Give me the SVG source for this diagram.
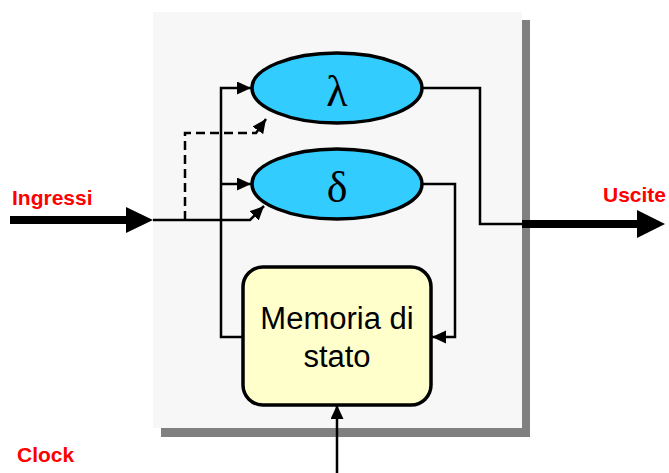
<svg xmlns="http://www.w3.org/2000/svg" width="669" height="473" viewBox="0 0 669 473">
<style>
.ln{fill:none;stroke:#000;stroke-width:2.5}
.dash{stroke-dasharray:9 5}
.ell{fill:#33ccff;stroke:#000;stroke-width:3.5}
.greek{font-family:"Liberation Serif","DejaVu Serif",serif;font-size:44px;text-anchor:middle;fill:#000}
.box{fill:#ffffcc;stroke:#000;stroke-width:3.5}
.mem{font-family:"Liberation Sans",Arial,sans-serif;font-size:31px;text-anchor:middle;fill:#000}
.lab{font-family:"Liberation Sans",Arial,sans-serif;font-size:21px;font-weight:bold;fill:#ff0000}
.thick{stroke:#000;stroke-width:8;fill:none}
</style>
<defs>
<marker id="ah" markerUnits="userSpaceOnUse" markerWidth="15" markerHeight="14" refX="14" refY="6.5" orient="auto">
<path d="M0,0 L14,6.5 L0,13 z" fill="#000"/>
</marker>
</defs>
<g id="panel">
<rect x="161" y="20" width="369" height="417" fill="#808080"/>
<rect x="153" y="12" width="369" height="416" fill="#f7f7f7"/>
</g>
<g id="connectors">
<path class="thick" d="M10,220 H128"/>
<polygon points="126,207 153,220 126,233" fill="#000"/>
<path class="thick" d="M522,224 H640"/>
<polygon points="637,210 665,224 637,238" fill="#000"/>
<path class="ln" d="M153,220 H250 L264,206" marker-end="url(#ah)"/>
<path class="ln dash" d="M185,220 V133 H256 L266,119" marker-end="url(#ah)"/>
<path class="ln" d="M243,337 H221 V88 H251" marker-end="url(#ah)"/>
<path class="ln" d="M221,184 H251" marker-end="url(#ah)"/>
<path class="ln" d="M423,88 H480 V224 H522"/>
<path class="ln" d="M423,184 H455 V337 H432" marker-end="url(#ah)"/>
<path class="ln" d="M337,473 V405" marker-end="url(#ah)"/>
</g>
<g id="lambda">
<ellipse class="ell" cx="337" cy="88" rx="85" ry="35"/>
<text class="greek" x="337" y="106">λ</text>
</g>
<g id="delta">
<ellipse class="ell" cx="337" cy="184" rx="85" ry="35"/>
<text class="greek" x="337" y="202">δ</text>
</g>
<g id="memoria">
<rect class="box" x="243" y="267" width="188" height="138" rx="20"/>
<text class="mem" x="337" y="329">Memoria di</text>
<text class="mem" x="337" y="367">stato</text>
</g>
<g id="labels">
<text class="lab" x="12" y="205">Ingressi</text>
<text class="lab" x="603" y="202">Uscite</text>
<text class="lab" x="17" y="462">Clock</text>
</g>
</svg>
